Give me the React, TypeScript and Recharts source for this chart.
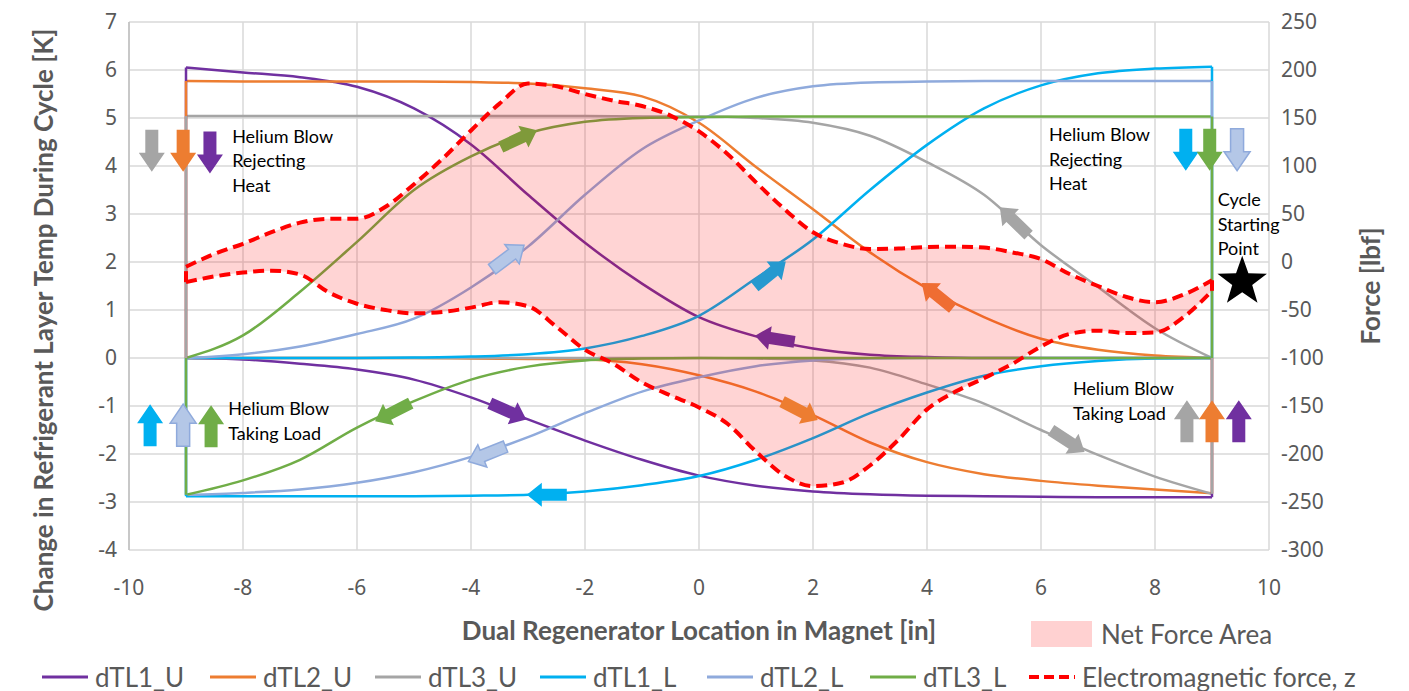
import React from 'react';
import {
  ComposedChart, Line, Area, XAxis, YAxis, CartesianGrid, Legend,
  ReferenceLine, ReferenceDot,
} from 'recharts';

// ---------- data ----------
const XS = [-9, -8, -7, -6, -5, -4, -3, -2, -1, 0, 1, 2, 3, 4, 5, 6, 7, 8, 9];

const DTL1_U_UPPER = [6.05, 5.95, 5.85, 5.65, 5.2, 4.45, 3.4, 2.4, 1.55, 0.85, 0.45, 0.2, 0.07, 0.02, 0, 0, 0, 0, 0];
const DTL1_U_LOWER = [0, -0.03, -0.12, -0.24, -0.45, -0.82, -1.28, -1.72, -2.12, -2.45, -2.66, -2.78, -2.84, -2.87, -2.88, -2.89, -2.9, -2.9, -2.9];

const DTL2_U_UPPER = [5.77, 5.76, 5.76, 5.76, 5.76, 5.75, 5.72, 5.62, 5.45, 4.9, 3.98, 3.1, 2.2, 1.45, 0.85, 0.4, 0.17, 0.05, 0];
const DTL2_U_LOWER = [0, 0, 0, 0, 0, -0.01, -0.02, -0.03, -0.13, -0.36, -0.7, -1.19, -1.76, -2.17, -2.42, -2.56, -2.66, -2.74, -2.82];

const DTL3_U_UPPER = [5.04, 5.04, 5.04, 5.04, 5.04, 5.04, 5.04, 5.04, 5.03, 5.03, 5.0, 4.9, 4.63, 4.08, 3.4, 2.35, 1.48, 0.62, 0];
const DTL3_U_LOWER = [0, 0, 0, 0, 0, 0, 0, 0, 0, 0, -0.01, -0.05, -0.2, -0.55, -0.95, -1.5, -2.02, -2.47, -2.83];

const DTL1_L_UPPER = [0, 0, 0, 0, 0.01, 0.03, 0.08, 0.2, 0.46, 0.88, 1.66, 2.47, 3.5, 4.44, 5.2, 5.68, 5.93, 6.03, 6.07];
const DTL1_L_LOWER = [-2.88, -2.88, -2.88, -2.88, -2.88, -2.87, -2.85, -2.78, -2.65, -2.46, -2.12, -1.67, -1.15, -0.72, -0.37, -0.17, -0.06, -0.01, 0];

const DTL2_L_UPPER = [0, 0.08, 0.24, 0.5, 0.82, 1.47, 2.32, 3.4, 4.35, 4.95, 5.42, 5.66, 5.74, 5.76, 5.77, 5.77, 5.77, 5.77, 5.77];
const DTL2_L_LOWER = [-2.85, -2.81, -2.74, -2.6, -2.38, -2.06, -1.65, -1.15, -0.7, -0.4, -0.17, -0.05, -0.01, 0, 0, 0, 0, 0, 0];

const DTL3_L_UPPER = [0, 0.47, 1.38, 2.42, 3.5, 4.2, 4.68, 4.92, 5.0, 5.02, 5.03, 5.03, 5.03, 5.03, 5.03, 5.03, 5.03, 5.03, 5.03];
const DTL3_L_LOWER = [-2.85, -2.55, -2.12, -1.45, -0.9, -0.45, -0.18, -0.05, -0.01, 0, 0, 0, 0, 0, 0, 0, 0, 0, 0];

// Electromagnetic force [lbf]
const FX = [-9, -8.5, -8, -7.5, -7, -6.5, -6, -5.5, -5, -4.5, -4, -3.5, -3, -2.5, -2, -1.5, -1, -0.5, 0,
  0.5, 1, 1.5, 2, 2.5, 3, 3.5, 4, 4.5, 5, 5.5, 6, 6.5, 7, 7.5, 8, 8.5, 9];
const FORCE_UPPER = [-5, 8.5, 19, 31, 41, 45, 45, 57.5, 81, 107.5, 137, 165, 186, 183, 175, 168, 162.5, 152.5, 136,
  112.5, 83, 55, 31, 19, 13.5, 14, 15.5, 16, 15, 10, 3, -12.5, -25, -36.5, -42, -34, -19];
const FORCE_LOWER = [-21, -15, -11, -9, -13, -31.5, -43.5, -50, -53.5, -52, -47.5, -42, -46, -67.5, -91.5, -106, -125.5, -139, -151.5,
  -168.5, -197.5, -222.5, -233.5, -230, -212, -185, -153.5, -135, -121, -106, -88, -75, -71.5, -74, -73.5, -57.5, -30];

const X_TICKS = [-10, -8, -6, -4, -2, 0, 2, 4, 6, 8, 10];
const LEFT_TICKS = [-4, -3, -2, -1, 0, 1, 2, 3, 4, 5, 6, 7];
const RIGHT_TICKS = [-300, -250, -200, -150, -100, -50, 0, 50, 100, 150, 200, 250];

// ---------- styles ----------
const COL = {
  purple: '#7030a0', orange: '#ed7d31', gray: '#a5a5a5', cyan: '#00b0f0',
  lblue: '#8faadc', green: '#70ad47', red: '#ff0000',
};
const TXT = '#595959';
const FONT = 'Lato, "Noto Sans", sans-serif';

const SERIES = [
  { name: 'dTL1_U', color: COL.purple, upper: DTL1_U_UPPER, lower: DTL1_U_LOWER },
  { name: 'dTL2_U', color: COL.orange, upper: DTL2_U_UPPER, lower: DTL2_U_LOWER },
  { name: 'dTL3_U', color: COL.gray, upper: DTL3_U_UPPER, lower: DTL3_U_LOWER },
  { name: 'dTL1_L', color: COL.cyan, upper: DTL1_L_UPPER, lower: DTL1_L_LOWER },
  { name: 'dTL2_L', color: COL.lblue, upper: DTL2_L_UPPER, lower: DTL2_L_LOWER },
  { name: 'dTL3_L', color: COL.green, upper: DTL3_L_UPPER, lower: DTL3_L_LOWER },
];

const pts = (xs: number[], ys: number[]) => xs.map((x, i) => ({ x, y: ys[i] }));
const AREA_DATA = FX.map((x, i) => ({ x, range: [FORCE_LOWER[i], FORCE_UPPER[i]] }));

// annotation arrows (data coordinates on left axis, screen angle in degrees)
type Arrow = { x: number; y: number; angle: number; color: string; hollow?: boolean; big?: boolean };
const ARROWS: Arrow[] = [
  { x: -9.6, y: 4.32, angle: 90, color: COL.gray, big: true },
  { x: -9.05, y: 4.32, angle: 90, color: COL.orange, big: true },
  { x: -8.58, y: 4.28, angle: 90, color: COL.purple, big: true },
  { x: -9.63, y: -1.4, angle: -90, color: COL.cyan, big: true },
  { x: -9.05, y: -1.4, angle: -90, color: COL.lblue, hollow: true, big: true },
  { x: -8.56, y: -1.42, angle: -90, color: COL.green, big: true },
  { x: 8.54, y: 4.34, angle: 90, color: COL.cyan, big: true },
  { x: 8.96, y: 4.34, angle: 90, color: COL.green, big: true },
  { x: 9.44, y: 4.34, angle: 90, color: COL.lblue, hollow: true, big: true },
  { x: 8.56, y: -1.32, angle: -90, color: COL.gray, big: true },
  { x: 9.0, y: -1.32, angle: -90, color: COL.orange, big: true },
  { x: 9.47, y: -1.32, angle: -90, color: COL.purple, big: true },
  { x: -3.16, y: 4.57, angle: -25, color: '#7f9a3a' },
  { x: -3.35, y: 2.1, angle: -37, color: COL.lblue, hollow: true },
  { x: -3.35, y: -1.11, angle: 24, color: COL.purple },
  { x: -3.72, y: -2.0, angle: 158, color: COL.lblue, hollow: true },
  { x: -2.67, y: -2.85, angle: 180, color: COL.cyan },
  { x: -5.37, y: -1.13, angle: 153, color: COL.green },
  { x: 1.25, y: 1.75, angle: -39, color: '#2699cf' },
  { x: 1.33, y: 0.4, angle: -171, color: '#7d2a8c' },
  { x: 4.18, y: 1.3, angle: -141, color: '#ef6d32' },
  { x: 1.77, y: -1.1, angle: 27, color: COL.orange },
  { x: 5.53, y: 2.85, angle: -136, color: COL.gray },
  { x: 6.47, y: -1.73, angle: 33, color: COL.gray },
];

const NOTES = [
  { x: -8.19, y: 4.63, lines: ['Helium Blow', 'Rejecting', 'Heat'] },
  { x: -8.26, y: -1.05, lines: ['Helium Blow', 'Taking Load'] },
  { x: 6.14, y: 4.66, lines: ['Helium Blow', 'Rejecting', 'Heat'] },
  { x: 9.1, y: 3.31, lines: ['Cycle', 'Starting', 'Point'] },
  { x: 6.56, y: -0.63, lines: ['Helium Blow', 'Taking Load'] },
];
const STAR = { x: 9.53, y: 1.59 };

// ---------- helpers ----------
function BlockArrow({ cx, cy, a }: { cx: number; cy: number; a: Arrow }) {
  const len = a.big ? 42 : 40;
  const shaftW = a.big ? 13 : 12;
  const headW = a.big ? 26 : 24;
  const headL = a.big ? 19 : 15;
  const h = len / 2;
  const b = h - headL;
  const p = [
    [-h, -shaftW / 2], [b, -shaftW / 2], [b, -headW / 2], [h, 0],
    [b, headW / 2], [b, shaftW / 2], [-h, shaftW / 2],
  ].map((q) => q.join(',')).join(' ');
  const fill = a.hollow ? '#b4c7e7' : a.color;
  const stroke = a.hollow ? a.color : 'none';
  return (
    <g transform={`translate(${cx},${cy}) rotate(${a.angle})`}>
      <polygon points={p} fill={fill} stroke={stroke} strokeWidth={a.hollow ? 1.5 : 0} />
    </g>
  );
}

function Star({ cx, cy }: { cx: number; cy: number }) {
  const R = 26, r = 10.5;
  const p: string[] = [];
  for (let i = 0; i < 10; i++) {
    const rad = i % 2 === 0 ? R : r;
    const ang = -Math.PI / 2 + (i * Math.PI) / 5;
    p.push(`${cx + rad * Math.cos(ang)},${cy + rad * Math.sin(ang)}`);
  }
  return <polygon points={p.join(' ')} fill="#000" />;
}

function YTitle(props: any) {
  const { viewBox, text, ox, oy } = props;
  const vb = viewBox || {};
  const cx = vb.x + ox;
  const cy = vb.y + vb.height / 2 + (oy || 0);
  return (
    <text
      x={cx} y={cy} textAnchor="middle" dominantBaseline="central"
      transform={`rotate(-90,${cx},${cy})`}
      fill={TXT} fontFamily={FONT} fontWeight={700} fontSize={26}
    >
      {text}
    </text>
  );
}

function XTitle(props: any) {
  const vb = props.viewBox || {};
  const cx = vb.x + vb.width / 2;
  const cy = vb.y + 80;
  return (
    <text x={cx} y={cy} textAnchor="middle" dominantBaseline="central"
      fill={TXT} fontFamily={FONT} fontWeight={700} fontSize={26}>
      {props.text}
    </text>
  );
}

const LEGEND_POS = [42, 210, 375, 540, 707, 870, 1029];

function LegendContent() {
  const items = [
    ...SERIES.map((s) => ({ name: s.name, color: s.color, dashed: false })),
    { name: 'Electromagnetic force, z', color: COL.red, dashed: true },
  ];
  return (
    <div style={{ position: 'relative', width: 1409, height: 91, fontFamily: FONT, color: TXT }}>
      <div style={{ position: 'absolute', left: 1031, top: 21, width: 61, height: 26, background: '#ffd1d1' }} />
      <div style={{ position: 'absolute', left: 1101, top: 16, fontSize: 26, lineHeight: '36px', whiteSpace: 'nowrap' }}>
        Net Force Area
      </div>
      {items.map((it, i) => (
        <div key={it.name} style={{ position: 'absolute', left: LEGEND_POS[i], top: 59, height: 36, display: 'flex', alignItems: 'center', whiteSpace: 'nowrap' }}>
          <svg width={46} height={10} style={{ marginRight: 7 }}>
            <line x1={0} y1={5} x2={46} y2={5} stroke={it.color} strokeWidth={it.dashed ? 4 : 3}
              strokeDasharray={it.dashed ? '10 5' : undefined} />
          </svg>
          <span style={{ fontSize: 26, lineHeight: '36px' }}>{it.name}</span>
        </div>
      ))}
    </div>
  );
}

export default function App() {
  const tickStyle = { fill: TXT, fontSize: 21, fontFamily: '"Noto Sans", sans-serif' };
  return (
    <div style={{ position: 'absolute', left: 0, top: 0, width: 1409, height: 691, background: '#fff' }}>
      <ComposedChart width={1409} height={691} margin={{ top: 22, right: 0, bottom: 0, left: 0 }}>
        <CartesianGrid yAxisId="left" stroke="#d9d9d9" strokeWidth={1.5} />
        <XAxis
          type="number" dataKey="x" domain={[-10, 10]} ticks={X_TICKS} height={141}
          axisLine={false} tickLine={false} tick={tickStyle} tickMargin={24}
          label={<XTitle text="Dual Regenerator Location in Magnet [in]" />}
        />
        <YAxis
          yAxisId="left" domain={[-4, 7]} ticks={LEFT_TICKS} width={129}
          axisLine={{ stroke: '#bfbfbf', strokeWidth: 1.5 }} tickLine={false} tick={tickStyle} tickMargin={6}
          label={<YTitle text="Change in Refrigerant Layer Temp During Cycle [K]" ox={43} oy={34} />}
        />
        <YAxis
          yAxisId="right" orientation="right" domain={[-300, 250]} ticks={RIGHT_TICKS} width={140}
          axisLine={false} tickLine={false} tick={{ ...tickStyle, textAnchor: 'start' }} tickMargin={6}
          label={<YTitle text="Force [lbf]" ox={101} oy={0} />}
        />
        {SERIES.flatMap((s) => [
          <Line key={s.name + '-u'} yAxisId="left" data={pts(XS, s.upper)} dataKey="y" name={s.name}
            type="monotone" stroke={s.color} strokeWidth={2.5} dot={false} activeDot={false} isAnimationActive={false} />,
          <Line key={s.name + '-l'} yAxisId="left" data={pts(XS, s.lower)} dataKey="y" name={s.name + ' '}
            legendType="none" type="monotone" stroke={s.color} strokeWidth={2.5} dot={false} activeDot={false} isAnimationActive={false} />,
        ])}
        {SERIES.flatMap((s) => [
          <ReferenceLine key={s.name + '-c0'} yAxisId="left" stroke={s.color} strokeWidth={2.5}
            segment={[{ x: XS[0], y: s.lower[0] }, { x: XS[0], y: s.upper[0] }]} />,
          <ReferenceLine key={s.name + '-c1'} yAxisId="left" stroke={s.color} strokeWidth={2.5}
            segment={[{ x: XS[XS.length - 1], y: s.lower[XS.length - 1] }, { x: XS[XS.length - 1], y: s.upper[XS.length - 1] }]} />,
        ])}
        {ARROWS.map((a, i) => (
          <ReferenceDot key={'ar' + i} yAxisId="left" x={a.x} y={a.y} r={0}
            shape={(p: any) => <BlockArrow cx={p.cx} cy={p.cy} a={a} />} />
        ))}
        {NOTES.map((n, i) => (
          <ReferenceDot key={'nt' + i} yAxisId="left" x={n.x} y={n.y} r={0}
            shape={(p: any) => (
              <g>
                {n.lines.map((l, j) => (
                  <text key={j} x={p.cx} y={p.cy + j * 24.5} dominantBaseline="central"
                    fill="#000" fontFamily={FONT} fontSize={18}>{l}</text>
                ))}
              </g>
            )} />
        ))}
        <ReferenceDot yAxisId="left" x={STAR.x} y={STAR.y} r={0}
          shape={(p: any) => <Star cx={p.cx} cy={p.cy} />} />
        <Area yAxisId="right" data={AREA_DATA} dataKey="range" name="Net Force Area" type="monotone"
          fill="#ff0000" fillOpacity={0.17} stroke="none" isAnimationActive={false} zIndex={450} />
        <Line yAxisId="right" data={pts(FX, FORCE_UPPER)} dataKey="y" name="Electromagnetic force, z"
          type="monotone" stroke={COL.red} strokeWidth={4} strokeDasharray="11 6" dot={false} activeDot={false}
          isAnimationActive={false} zIndex={460} />
        <Line yAxisId="right" data={pts(FX, FORCE_LOWER)} dataKey="y" name="Electromagnetic force, z "
          legendType="none" type="monotone" stroke={COL.red} strokeWidth={4} strokeDasharray="11 6" dot={false}
          activeDot={false} isAnimationActive={false} zIndex={460} />
        <ReferenceLine yAxisId="right" stroke={COL.red} strokeWidth={4} strokeDasharray="11 6" zIndex={460}
          segment={[{ x: FX[0], y: FORCE_LOWER[0] }, { x: FX[0], y: FORCE_UPPER[0] }]} />
        <ReferenceLine yAxisId="right" stroke={COL.red} strokeWidth={4} strokeDasharray="11 6" zIndex={460}
          segment={[{ x: FX[FX.length - 1], y: FORCE_LOWER[FX.length - 1] }, { x: FX[FX.length - 1], y: FORCE_UPPER[FX.length - 1] }]} />
        <Legend layout="horizontal" verticalAlign="middle" align="center"
          wrapperStyle={{ left: 0, top: 600, width: 1409, height: 91 }} content={<LegendContent />} />
      </ComposedChart>
    </div>
  );
}
